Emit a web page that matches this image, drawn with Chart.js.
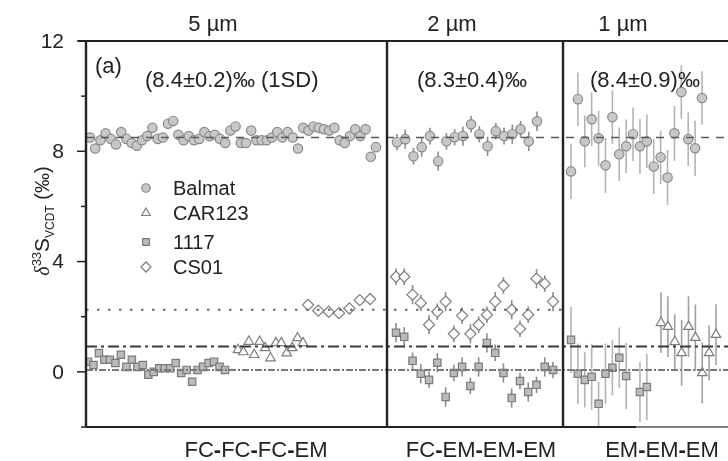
<!DOCTYPE html>
<html>
<head>
<meta charset="utf-8">
<script src="https://cdn.jsdelivr.net/npm/chart.js@4"></script>
<style>
  html, body { margin: 0; background: #fff; }
  #wrap { width: 728px; height: 461px; }
</style>
</head>
<body>
<div id="wrap"><canvas id="chart" width="728" height="461"></canvas></div>
<script>
// beam sizes, analysis modes and Balmat reproducibility for each session
const sizes = ['5 µm', '2 µm', '1 µm']
const modes = ['FC-FC-FC-EM', 'FC-EM-EM-EM', 'EM-EM-EM']
const notes = ['(8.4±0.2)‰ (1SD)', '(8.3±0.4)‰', '(8.4±0.9)‰']
const samples = ['Balmat', 'CAR123', '1117', 'CS01']
const yTicks = [-2, 0, 2, 4, 6, 8, 10, 12]
const yLabels = [0, 4, 8, 12]

// reference values (‰) drawn as horizontal lines, same order as samples
const refValues = [8.5, 0.92, 0.07, 2.25]

// δ33S values (‰), session 1 (5 µm)
const balmat5 = [8.5, 8.1, 8.4, 8.65, 8.45, 8.25, 8.7, 8.45, 8.3, 8.2, 8.4, 8.55, 8.85, 8.45, 8.5, 9.0, 9.1, 8.6, 8.4, 8.55,
  8.4, 8.45, 8.7, 8.55, 8.6, 8.45, 8.3, 8.75, 8.9, 8.3, 8.3, 8.75, 8.4, 8.4, 8.4, 8.5, 8.7, 8.5, 8.7, 8.5,
  8.1, 8.85, 8.75, 8.9, 8.85, 8.8, 8.75, 8.85, 8.4, 8.3, 8.55, 8.8, 8.55, 8.8, 7.8, 8.15]
const s1117_5 = [0.37, 0.25, 0.68, 0.44, 0.44, 0.32, 0.62, 0.18, 0.44, 0.18, 0.25, -0.1, 0.0, 0.13, 0.13, 0.13, 0.32, -0.04,
  0.07, -0.36, 0.07, 0.18, 0.32, 0.37, 0.18, 0.07]
const car123_5 = [0.8, 0.72, 1.1, 0.62, 1.1, 0.87, 0.5, 1.05, 1.05, 0.68, 0.87, 1.23, 1.05]
const cs01_5 = [2.43, 2.22, 2.18, 2.13, 2.3, 2.6, 2.64]

// session 2 (2 µm)
const balmat2 = [8.33, 8.44, 7.82, 8.15, 8.55, 7.64, 8.36, 8.51, 8.55, 8.98, 8.62, 8.18, 8.73, 8.55, 8.62, 8.8, 8.36, 9.09]
const balmat2Err = [0.3, 0.35, 0.3, 0.35, 0.3, 0.35, 0.3, 0.3, 0.35, 0.3, 0.3, 0.35, 0.3, 0.3, 0.35, 0.3, 0.35, 0.35]
const s1117_2 = [1.42, 1.27, 0.4, -0.07, -0.29, 0.33, -0.91, -0.04, 0.18, -0.51, 0.18, 1.05, 0.69, -0.04, -0.95, -0.33,
  -0.73, -0.47, 0.18, 0.07]
const s1117_2Err = [0.35, 0.35, 0.3, 0.35, 0.3, 0.35, 0.35, 0.3, 0.35, 0.3, 0.35, 0.35, 0.3, 0.35, 0.35, 0.3, 0.35, 0.3, 0.35, 0.3]
const cs01_2 = [3.45, 3.45, 2.8, 2.5, 1.71, 2.18, 2.55, 1.38, 2.04, 1.38, 1.71, 2.07, 2.55, 3.13, 2.25, 1.56, 2.07, 3.38, 3.2, 2.55]
const cs01_2Err = [0.3, 0.3, 0.35, 0.3, 0.35, 0.3, 0.35, 0.3, 0.3, 0.35, 0.3, 0.3, 0.35, 0.3, 0.35, 0.3, 0.3, 0.35, 0.3, 0.35]

// session 3 (1 µm)
const balmat1 = [7.27, 9.89, 8.36, 9.16, 8.47, 7.49, 9.24, 7.89, 8.18, 8.62, 8.18, 8.36, 7.45, 7.78, 7.05, 8.65, 10.15, 8.44, 8.11, 9.93]
const balmat1Err = [1.0, 0.97, 0.94, 0.97, 1.0, 1.0, 0.97, 0.97, 0.97, 0.97, 1.0, 0.97, 1.0, 0.97, 1.0, 1.0, 0.97, 0.97, 1.0, 0.97]
const s1117_1 = [1.16, -0.07, -0.29, -0.18, -1.16, -0.07, 0.15, 0.51, -0.15, null, -0.73, -0.55]
const s1117_1Err = [1.2, 1.1, 1.0, 1.2, 0.8, 1.1, 1.0, 1.1, 1.2, null, 1.1, 1.2]
const car123_1 = [1.78, 1.64, 1.09, 0.69, 1.64, 1.24, -0.04, 0.69, 1.35]
const car123_1Err = [1.1, 1.1, 1.0, 1.2, 1.1, 1.2, 1.1, 1.0, 1.1]

// x axis is the analysis slot; sessions end at these slots
const xMax = 128.4
const panelEnds = [60.2, 95.4]
// [first slot, slot spacing] for each run of analyses
const runs = {
	balmat5: [0.8, 1.04], s1117_5: [0.4, 1.096], car123_5: [30.4, 1.083], cs01_5: [44.4, 2.07],
	balmat2: [62.2, 1.647], s1117_2: [62, 1.653], cs01_2: [62, 1.653],
	balmat1: [97, 1.379], s1117_1: [97, 1.379], car123_1: [115, 1.375],
}

const marks = {
	Balmat: { pointStyle: 'circle', radius: 4.7, bg: '#c8c8c8', border: '#8a8a8a' },
	CAR123: { pointStyle: 'triangle', radius: 5.5, bg: '#ffffff', border: '#7d7d7d' },
	'1117': { pointStyle: 'rect', radius: 5.2, bg: '#bababa', border: '#7b7b7b' },
	CS01: { pointStyle: 'rectRot', radius: 5.6, bg: '#ffffff', border: '#7d7d7d' },
}

const toPoints = (values, run, errs) =>
	values
		.map((y, i) => ({ x: run[0] + i * run[1], y, e: errs ? errs[i] : 0 }))
		.filter(p => p.y !== null)

const series = (name, values, run, errs, barColor) => ({
	type: 'scatter',
	label: name,
	data: toPoints(values, run, errs),
	pointStyle: marks[name].pointStyle,
	pointRadius: marks[name].radius,
	pointHoverRadius: marks[name].radius,
	backgroundColor: marks[name].bg,
	borderColor: marks[name].border,
	pointBorderWidth: 1.2,
	barColor: barColor,
	order: 1,
})

const refLine = (value, to, color, width, dash) => ({
	type: 'line',
	data: [{ x: 0, y: value }, { x: to, y: value }],
	borderColor: color,
	borderWidth: width,
	borderDash: dash,
	pointRadius: 0,
	order: 0,
})

const datasets = [
	series('1117', s1117_5, runs.s1117_5),
	series('CAR123', car123_5, runs.car123_5),
	series('CS01', cs01_5, runs.cs01_5),
	series('Balmat', balmat5, runs.balmat5),
	series('1117', s1117_2, runs.s1117_2, s1117_2Err, '#8c8c8c'),
	series('CS01', cs01_2, runs.cs01_2, cs01_2Err, '#8c8c8c'),
	series('Balmat', balmat2, runs.balmat2, balmat2Err, '#8c8c8c'),
	series('1117', s1117_1, runs.s1117_1, s1117_1Err, '#b4b4b4'),
	series('CAR123', car123_1, runs.car123_1, car123_1Err, '#a0a0a0'),
	series('Balmat', balmat1, runs.balmat1, balmat1Err, '#b4b4b4'),
	refLine(refValues[0], xMax, '#5a5a5a', 1.6, [8, 7]),
	refLine(refValues[3], panelEnds[1], '#6a6a6a', 2, [2.5, 8.5]),
	refLine(refValues[1], xMax, '#3a3a3a', 2, [11, 4, 3, 4]),
	refLine(refValues[2], xMax, '#7a7a7a', 2, [7, 2, 2, 2]),
]

const FONT = '"Liberation Sans", Arial, sans-serif'
const INK = '#222'

const errorBars = {
	id: 'errorBars',
	beforeDatasetsDraw(chart) {
		const { ctx } = chart
		const y = chart.scales.y
		chart.data.datasets.forEach((ds, i) => {
			if (!ds.barColor) return
			const meta = chart.getDatasetMeta(i)
			ctx.save()
			ctx.strokeStyle = ds.barColor
			ctx.lineWidth = 1.6
			meta.data.forEach((el, j) => {
				const p = ds.data[j]
				ctx.beginPath()
				ctx.moveTo(el.x, y.getPixelForValue(p.y + p.e))
				ctx.lineTo(el.x, y.getPixelForValue(p.y - p.e))
				ctx.stroke()
			})
			ctx.restore()
		})
	},
}

// mode labels with the heavy joining dash
const drawMode = (ctx, text, cx, cy) => {
	const pieces = text.split('-')
	const regular = '22px ' + FONT
	const heavy = 'bold 22px ' + FONT
	let w = 0
	pieces.forEach((p, i) => {
		ctx.font = regular
		w += ctx.measureText(p).width
		if (i < pieces.length - 1) {
			ctx.font = heavy
			w += ctx.measureText('-').width
		}
	})
	let x = cx - w / 2
	ctx.textAlign = 'left'
	pieces.forEach((p, i) => {
		ctx.font = regular
		ctx.fillText(p, x, cy)
		x += ctx.measureText(p).width
		if (i < pieces.length - 1) {
			ctx.font = heavy
			ctx.fillText('-', x, cy)
			x += ctx.measureText('-').width
		}
	})
}

const frame = {
	id: 'frame',
	afterDatasetsDraw(chart) {
		const { ctx, chartArea: a } = chart
		const x = chart.scales.x
		const y = chart.scales.y
		ctx.save()
		ctx.strokeStyle = INK
		ctx.lineCap = 'butt'

		// box and session dividers
		ctx.lineWidth = 2.4
		ctx.beginPath()
		ctx.moveTo(a.left, a.top)
		ctx.lineTo(a.left, a.bottom)
		panelEnds.forEach(v => {
			const px = x.getPixelForValue(v)
			ctx.moveTo(px, a.top)
			ctx.lineTo(px, a.bottom)
		})
		ctx.stroke()
		ctx.lineWidth = 2
		ctx.beginPath()
		ctx.moveTo(a.left - 8, a.top)
		ctx.lineTo(a.right, a.top)
		ctx.moveTo(a.left, a.bottom)
		ctx.lineTo(x.getPixelForValue(110), a.bottom)
		ctx.stroke()
		ctx.strokeStyle = '#555'
		ctx.lineWidth = 1.4
		ctx.beginPath()
		ctx.moveTo(x.getPixelForValue(110), a.bottom)
		ctx.lineTo(a.right, a.bottom)
		ctx.stroke()

		// y ticks and labels
		ctx.strokeStyle = INK
		ctx.lineWidth = 1.5
		ctx.fillStyle = INK
		ctx.font = '21px ' + FONT
		ctx.textAlign = 'right'
		ctx.textBaseline = 'middle'
		yTicks.forEach(v => {
			const py = y.getPixelForValue(v)
			const major = yLabels.includes(v)
			ctx.beginPath()
			ctx.moveTo(a.left - (major ? 9 : 5), py)
			ctx.lineTo(a.left, py)
			ctx.stroke()
			if (major) ctx.fillText(String(v), a.left - 22, py + 1)
		})

		// session headers, mode labels, reproducibility notes
		ctx.font = '22px ' + FONT
		ctx.textAlign = 'center'
		const titleAt = [25.4, 73.2, 107.4]
		const modeAt = [34, 79, 115.2]
		sizes.forEach((t, i) => ctx.fillText(t, x.getPixelForValue(titleAt[i]), 25))
		modes.forEach((t, i) => drawMode(ctx, t, x.getPixelForValue(modeAt[i]), 451))
		ctx.textAlign = 'left'
		ctx.font = '22px ' + FONT
		const noteAt = [11.8, 66.2, 100.8]
		notes.forEach((t, i) => ctx.fillText(t, x.getPixelForValue(noteAt[i]), 81))
		ctx.fillText('(a)', a.left + 9, 67)

		// legend
		ctx.font = '20px ' + FONT
		const rows = [188, 213, 242, 267]
		samples.forEach((name, i) => {
			const m = marks[name]
			ctx.fillStyle = m.bg
			ctx.strokeStyle = m.border
			ctx.lineWidth = 1.2
			Chart.helpers.drawPoint(ctx, { pointStyle: m.pointStyle, radius: m.radius * 0.9, rotation: 0, borderWidth: 1.2 }, 146, rows[i])
			ctx.fillStyle = INK
			ctx.fillText(name, 173, rows[i] + 1)
		})

		// y axis title: δ33S VCDT (‰)
		ctx.translate(49, 221)
		ctx.rotate(-Math.PI / 2)
		const parts = [
			{ t: 'δ', f: 'italic 20px "Liberation Serif", serif', dy: 0 },
			{ t: '33', f: '13px ' + FONT, dy: -8 },
			{ t: 'S', f: '21px ' + FONT, dy: 0 },
			{ t: 'VCDT', f: '12px ' + FONT, dy: 5 },
			{ t: ' (‰)', f: '20px ' + FONT, dy: 0 },
		]
		let w = 0
		parts.forEach(p => {
			ctx.font = p.f
			w += ctx.measureText(p.t).width
		})
		let cx = -w / 2
		ctx.textAlign = 'left'
		ctx.textBaseline = 'alphabetic'
		ctx.fillStyle = INK
		parts.forEach(p => {
			ctx.font = p.f
			ctx.fillText(p.t, cx, p.dy)
			cx += ctx.measureText(p.t).width
		})
		ctx.restore()
	},
}

new Chart(document.getElementById('chart'), {
	data: { datasets },
	options: {
		responsive: false,
		animation: false,
		layout: { autoPadding: false, padding: { left: 86, right: 0, top: 41, bottom: 34 } },
		scales: {
			x: { type: 'linear', min: 0, max: xMax, display: false },
			y: { type: 'linear', min: -2, max: 12, display: false },
		},
		plugins: { legend: { display: false }, tooltip: { enabled: false } },
	},
	plugins: [errorBars, frame],
})
</script>
</body>
</html>
